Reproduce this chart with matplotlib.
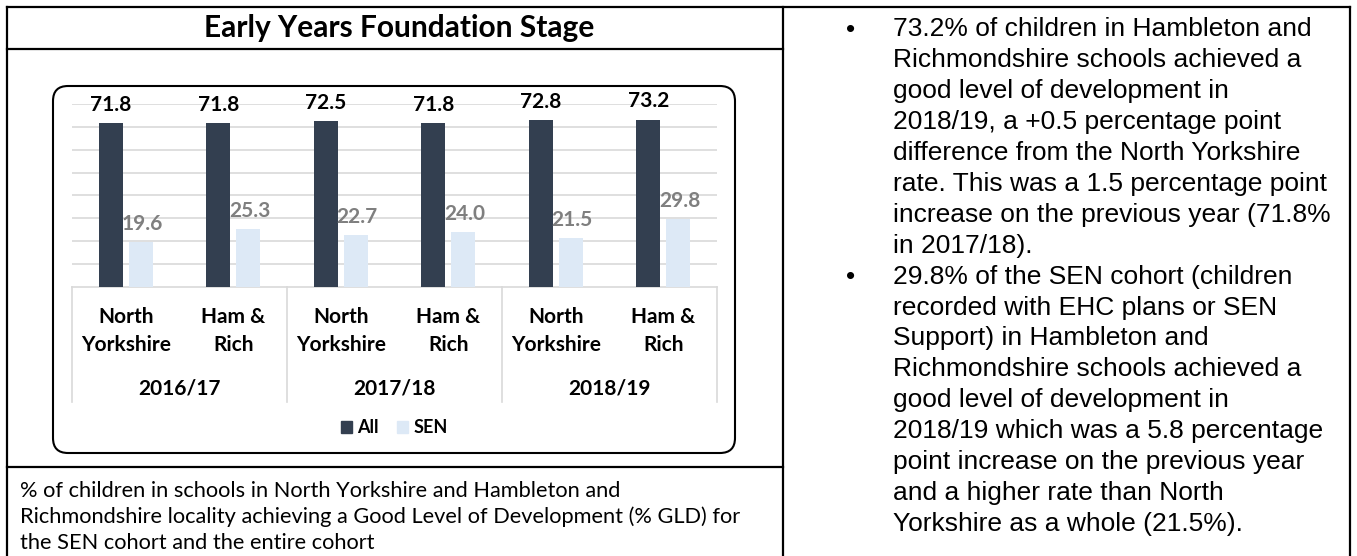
import matplotlib
matplotlib.use("Agg")
import matplotlib.pyplot as plt
from matplotlib.patches import FancyBboxPatch, Patch
from matplotlib.lines import Line2D
from matplotlib.transforms import blended_transform_factory
import numpy as np

W, H = 1357, 556  # output size in px (dpi 100)

# data
areas = ["North\nYorkshire", "Ham &\nRich"] * 3
years = ["2016/17", "2017/18", "2018/19"]
all_gld = [71.8, 71.8, 72.5, 71.8, 72.8, 73.2]
sen_gld = [19.6, 25.3, 22.7, 24.0, 21.5, 29.8]

title = "Early Years Foundation Stage"
caption = [
    "% of children in schools in North Yorkshire and Hambleton and",
    "Richmondshire locality achieving a Good Level of Development (% GLD) for",
    "the SEN cohort and the entire cohort",
]
bullet_1 = [
    "73.2% of children in Hambleton and",
    "Richmondshire schools achieved a",
    "good level of development in",
    "2018/19, a +0.5 percentage point",
    "difference from the North Yorkshire",
    "rate. This was a 1.5 percentage point",
    "increase on the previous year (71.8%",
    "in 2017/18).",
]
bullet_2 = [
    "29.8% of the SEN cohort (children",
    "recorded with EHC plans or SEN",
    "Support) in Hambleton and",
    "Richmondshire schools achieved a",
    "good level of development in",
    "2018/19 which was a 5.8 percentage",
    "point increase on the previous year",
    "and a higher rate than North",
    "Yorkshire as a whole (21.5%).",
]

DARK = "#333F50"
LIGHT = "#DDE9F6"
GRID = "#D9D9D9"
CAL = "Lato"
ARIAL = "Liberation Sans"

fig = plt.figure(figsize=(W / 100, H / 100), dpi=100)
inch = fig.dpi_scale_trans


def px(x, y):
    return x / 100, (H - y) / 100


def hline(x0, x1, y, **kw):
    (a, b), (c, d) = px(x0, y), px(x1, y)
    fig.add_artist(Line2D([a, c], [b, d], transform=inch, **kw))


def vline(x, y0, y1, **kw):
    (a, b), (c, d) = px(x, y0), px(x, y1)
    fig.add_artist(Line2D([a, c], [b, d], transform=inch, **kw))


# table borders
border = dict(color="black", lw=1.6, solid_capstyle="projecting")
hline(7, 1350, 7, **border)
hline(7, 783, 49, **border)
hline(7, 783, 467, **border)
vline(7, 7, H, **border)
vline(783, 7, H, **border)
vline(1350, 7, H, **border)

# title + caption
tx, ty = px(399, 37)
fig.text(tx, ty, title, transform=inch, ha="center", va="baseline",
         family=CAL, fontweight="bold", fontsize=21.5)
for i, line in enumerate(caption):
    cx, cy = px(20, 497 + i * 26)
    fig.text(cx, cy, line, transform=inch, ha="left", va="baseline",
             family=CAL, fontsize=15.7)

# bullet text on the right
lines = [(j == 0, l) for j, l in enumerate(bullet_1)]
lines += [(j == 0, l) for j, l in enumerate(bullet_2)]
for i, (is_first, line) in enumerate(lines):
    bx, by = px(893, 36.5 + i * 30.9)
    fig.text(bx, by, line, transform=inch, ha="left", va="baseline",
             family=ARIAL, fontsize=19)
    if is_first:
        dx, _ = px(851, 0)
        fig.text(dx, by, "\u2022", transform=inch, ha="center", va="baseline",
                 family=ARIAL, fontsize=19)

# rounded chart frame
x0, y0 = px(53, 453)
x1, y1 = px(735, 86)
fig.add_artist(FancyBboxPatch((x0, y0), x1 - x0, y1 - y0,
                              boxstyle="round,pad=0,rounding_size=0.15",
                              transform=inch, facecolor="none",
                              edgecolor="black", lw=1.5))

# bar chart
ax = fig.add_axes([72 / W, 1 - 287 / H, 645 / W, 183 / H])
x = np.arange(len(all_gld))
bw = 0.223
ax.bar(x - 0.14, all_gld, width=bw, color=DARK, zorder=3)
ax.bar(x + 0.14, sen_gld, width=bw, color=LIGHT, zorder=3)

for xi, v in zip(x, all_gld):
    ax.annotate(f"{v:.1f}", (xi - 0.14, v), textcoords="offset points",
                xytext=(0, 13), ha="center", va="center", family=CAL,
                fontweight="bold", fontsize=15, color="black", zorder=5)
for xi, v in zip(x, sen_gld):
    ax.annotate(f"{v:.1f}", (xi + 0.14, v), textcoords="offset points",
                xytext=(1, 13), ha="center", va="center", family=CAL,
                fontweight="bold", fontsize=15, color="#7F7F7F", zorder=5)

ax.set_xlim(-0.5, len(x) - 0.5)
ax.set_ylim(0, 80)
ax.set_yticks(np.arange(10, 81, 10))
ax.grid(axis="y", color=GRID, lw=1.2, zorder=0)
ax.tick_params(left=False, bottom=False, labelleft=False, labelbottom=False)
for s in ax.spines.values():
    s.set_visible(False)

# category table under the axis
bt = blended_transform_factory(ax.transData, ax.transAxes)
ax.plot([-0.5, len(x) - 0.5], [0, 0], transform=bt, color=GRID, lw=1.2,
        clip_on=False, zorder=2)
for b in [-0.5, 1.5, 3.5, 5.5]:
    ax.plot([b, b], [0, -0.628], transform=bt, color=GRID, lw=1.2,
            clip_on=False)
for xi, lab in zip(x, areas):
    ax.text(xi, -0.24, lab, transform=bt, ha="center", va="center",
            family=CAL, fontweight="bold", fontsize=15, linespacing=1.45)
for k, yr in enumerate(years):
    ax.text(2 * k + 0.5, -0.552, yr, transform=bt, ha="center",
            va="center", family=CAL, fontweight="bold", fontsize=15)

handles = [Patch(color=DARK, label="All"), Patch(color=LIGHT, label="SEN")]
ax.legend(handles=handles, loc="center", bbox_to_anchor=(0.5, -0.77),
          ncol=2, frameon=False, handlelength=0.6, handleheight=0.6,
          handletextpad=0.3, columnspacing=1.0,
          prop=dict(family=CAL, weight="bold", size=13))

fig.savefig("out.png", dpi=100)
